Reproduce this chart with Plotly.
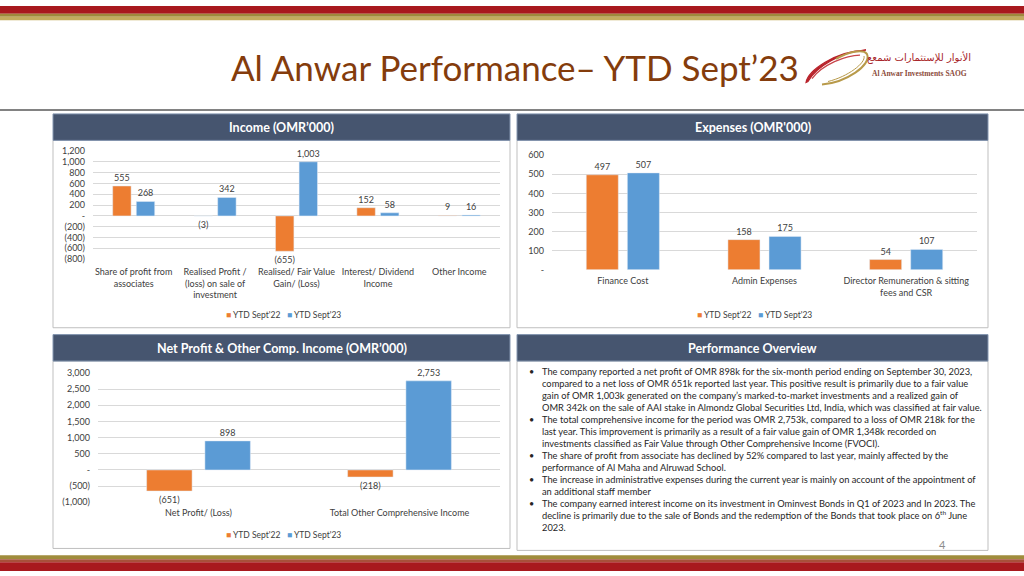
import plotly.graph_objects as go

W, H = 1024, 576


def px(x):
    return x / W


def py(y):
    return 1 - y / H


# ---------------- data ----------------
series_names = ["YTD Sept'22", "YTD Sept'23"]
series_colors = ["#ED7D31", "#5B9BD5"]

income_categories = [
    "Share of profit from<br>associates",
    "Realised Profit /<br>(loss) on sale of<br>investment",
    "Realised/ Fair Value<br>Gain/ (Loss)",
    "Interest/ Dividend<br>Income",
    "Other Income",
]
income_2022 = [555, -3, -655, 152, 9]
income_2023 = [268, 342, 1003, 58, 16]
income_ticks = [1200, 1000, 800, 600, 400, 200, 0, -200, -400, -600, -800]

expense_categories = [
    "Finance Cost",
    "Admin Expenses",
    "Director Remuneration & sitting<br>fees and CSR",
]
expense_2022 = [497, 158, 54]
expense_2023 = [507, 175, 107]
expense_ticks = [0, 100, 200, 300, 400, 500, 600]

np_categories = ["Net Profit/ (Loss)", "Total Other Comprehensive Income"]
np_2022 = [-651, -218]
np_2023 = [898, 2753]
np_ticks = [-1000, -500, 0, 500, 1000, 1500, 2000, 2500, 3000]

title_text = "Al Anwar Performance– YTD Sept’23"
panel_titles = [
    "Income (OMR’000)",
    "Expenses (OMR'000)",
    "Net Profit & Other Comp. Income (OMR’000)",
    "Performance Overview",
]
overview_lines = [
    "The company reported a net profit of OMR 898k for the six-month period ending on September 30, 2023,",
    "compared to a net loss of OMR 651k reported last year. This positive result is primarily due to a fair value",
    "gain of OMR 1,003k generated on the company’s marked-to-market investments and a realized gain of",
    "OMR 342k on the sale of AAI stake in Almondz Global Securities Ltd, India, which was classified at fair value.",
    "The total comprehensive income for the period was OMR 2,753k, compared to a loss of OMR 218k for the",
    "last year. This improvement is primarily as a result of a fair value gain of OMR 1,348k recorded on",
    "investments classified as Fair Value through Other Comprehensive Income (FVOCI).",
    "The share of profit from associate has declined by 52% compared to last year, mainly affected by the",
    "performance of Al Maha and Alruwad School.",
    "The increase in administrative expenses during the current year is mainly on account of the appointment of",
    "an additional staff member",
    "The company earned interest income on its investment in Ominvest Bonds in Q1 of 2023 and In 2023. The",
    "decline is primarily due to the sale of Bonds and the redemption of the Bonds that took place on 6<sup>th</sup> June",
    "2023.",
]
bullet_lines = [0, 4, 7, 9, 11]


def acct(v):
    if v == 0:
        return "-"
    if v < 0:
        return "({:,})".format(-v)
    return "{:,}".format(v)


FONT = "Lato"
TXT = "#404040"

fig = go.Figure()


def add_pair(cats, v22, v23, xa, ya):
    for name, vals, col in zip(series_names, [v22, v23], series_colors):
        fig.add_trace(go.Bar(
            x=cats, y=vals, name=name, marker_color=col,
            text=[acct(v) for v in vals], textposition="outside",
            textfont=dict(size=9, color=TXT, family=FONT),
            constraintext="none", cliponaxis=False,
            xaxis=xa, yaxis=ya, showlegend=False, hoverinfo="skip",
        ))


add_pair(income_categories, income_2022, income_2023, "x", "y")
add_pair(expense_categories, expense_2022, expense_2023, "x2", "y2")
add_pair(np_categories, np_2022, np_2023, "x3", "y3")

shapes = []


def rect(x0, y0, x1, y1, fill, line=None, lw=0, layer="below"):
    shapes.append(dict(type="rect", xref="paper", yref="paper",
                       x0=px(x0), x1=px(x1), y0=py(y1), y1=py(y0),
                       fillcolor=fill, line=dict(color=line or fill, width=lw), layer=layer))


# top and bottom bands
rect(0, 0, 1024, 8, "#A8191E")
rect(0, 8, 1024, 11, "#9E8A3C")
rect(0, 11, 1024, 14.5, "#C2AC5E")
rect(0, 560, 1024, 564, "#A08C3C")
rect(0, 564, 1024, 567, "#A8503A")
rect(0, 567, 1024, 576, "#A8191E")
# separator line
shapes.append(dict(type="line", xref="paper", yref="paper", x0=0, x1=1,
                   y0=py(106), y1=py(106), line=dict(color="#595959", width=1.5)))

# panels: (x0, x1, header_top, header_bottom, box_bottom)
panels = [
    (53, 510, 110, 137, 328),
    (517, 988, 110, 137, 328),
    (53, 510, 335, 362, 553),
    (517, 988, 335, 362, 555),
]
annotations = []
for (x0, x1, ht, hb, bb), t in zip(panels, panel_titles):
    rect(x0, hb, x1, bb, "white", line="#BFBFBF", lw=1)
    rect(x0, ht, x1, hb, "#46556F", line="#8496B0", lw=1)
    annotations.append(dict(text="<b>" + t + "</b>", x=px((x0 + x1) / 2), y=py((ht + hb) / 2 + 0.5),
                            xref="paper", yref="paper", showarrow=False,
                            font=dict(size=12.5, color="white", family=FONT),
                            xanchor="center", yanchor="middle"))

# title
annotations.append(dict(text=title_text, x=px(515), y=py(62), xref="paper", yref="paper",
                        showarrow=False, font=dict(size=35, color="#843C0C", family=FONT),
                        xanchor="center", yanchor="middle"))


# logo
def pth(points_str):
    out = []
    for tok in points_str.split():
        if "," in tok:
            a, b = tok.split(",")
            out.append("{:.5f},{:.5f}".format(px(float(a)), py(float(b))))
        else:
            out.append(tok)
    return " ".join(out)


shapes.append(dict(type="path", xref="paper", yref="paper",
                   path=pth("M 806,78 C 808,66 835,46 866,45 C 842,46 816,62 808,77 Z"),
                   fillcolor="#B8222A", line=dict(color="#B8222A", width=1.2)))
shapes.append(dict(type="path", xref="paper", yref="paper",
                   path=pth("M 812,74 C 822,60 846,50 860,50"),
                   line=dict(color="#C8454A", width=1.2)))
shapes.append(dict(type="path", xref="paper", yref="paper",
                   path=pth("M 822,80 C 846,78 872,60 867,49 C 863,43 848,47 836,54"),
                   line=dict(color="#B89A4A", width=2)))
shapes.append(dict(type="path", xref="paper", yref="paper",
                   path=pth("M 828,77 C 848,72 866,58 864,51"),
                   line=dict(color="#B89A4A", width=1)))
annotations.append(dict(text="الأنوار للإستثمارات شمعع", x=px(919), y=py(52), xref="paper", yref="paper",
                        showarrow=False, font=dict(size=10, color="#A8262A", family="DejaVu Sans"),
                        xanchor="center", yanchor="middle"))
annotations.append(dict(text="<b>Al Anwar Investments SAOG</b>", x=px(919), y=py(69), xref="paper", yref="paper",
                        showarrow=False, font=dict(size=7.5, color="#8B4A3A", family="Liberation Serif"),
                        xanchor="center", yanchor="middle"))

# overview text
for i, line in enumerate(overview_lines):
    yy = 373 + i * 12.2
    annotations.append(dict(text=line, x=px(540), y=py(yy), xref="paper", yref="paper",
                            showarrow=False, font=dict(size=9.3, color="#262626", family=FONT),
                            xanchor="left", yanchor="middle"))
    if i in bullet_lines:
        annotations.append(dict(text="•", x=px(527), y=py(yy), xref="paper", yref="paper",
                                showarrow=False, font=dict(size=9, color="#262626", family=FONT),
                                xanchor="left", yanchor="middle"))
# page number
annotations.append(dict(text="4", x=px(942), y=py(549), xref="paper", yref="paper",
                        showarrow=False, font=dict(size=11, color="#8C8C8C", family=FONT),
                        xanchor="center", yanchor="middle"))

# legends (built from series names / colours)
legend_text = "   ".join(
    '<span style="color:{}">■</span> {}'.format(c, n) for n, c in zip(series_names, series_colors)
)
for lx, ly in [(283, 315), (754, 315), (283, 539)]:
    annotations.append(dict(text=legend_text, x=px(lx), y=py(ly), xref="paper", yref="paper",
                            showarrow=False, font=dict(size=8.5, color=TXT, family=FONT),
                            xanchor="center", yanchor="middle"))

axis_common = dict(tickfont=dict(size=9, color=TXT, family=FONT), showline=False, zeroline=False,
                   fixedrange=True)
yax_common = dict(axis_common, showgrid=True, gridcolor="#D9D9D9", gridwidth=1, tickmode="array",
                  ticklabelstandoff=7)

fig.update_layout(
    width=W, height=H, margin=dict(l=0, r=0, t=0, b=0),
    paper_bgcolor="white", plot_bgcolor="rgba(0,0,0,0)",
    barmode="group", bargap=0.42, bargroupgap=0.22,
    font=dict(family=FONT, color=TXT),
    xaxis=dict(axis_common, domain=[px(93), px(500)], anchor="y", showgrid=False, ticklabelstandoff=6),
    yaxis=dict(yax_common, domain=[py(258), py(148)], anchor="x", range=[-800, 1200],
               tickvals=income_ticks, ticktext=[acct(v) for v in income_ticks]),
    xaxis2=dict(axis_common, domain=[px(552), px(977)], anchor="y2", showgrid=False, ticklabelstandoff=4),
    yaxis2=dict(yax_common, domain=[py(269), py(152)], anchor="x2", range=[0, 600],
                tickvals=expense_ticks, ticktext=[acct(v) for v in expense_ticks]),
    xaxis3=dict(axis_common, domain=[px(98), px(500)], anchor="y3", showgrid=False, ticklabelstandoff=4),
    yaxis3=dict(yax_common, domain=[py(506), py(374)], anchor="x3", range=[-1000, 3000],
                tickvals=np_ticks, ticktext=[acct(v) for v in np_ticks]),
    shapes=shapes, annotations=annotations,
    showlegend=False,
)

fig.write_html(
    "out.html",
    config={"displayModeBar": False, "staticPlot": True},
    post_script="document.body.style.margin='0';document.body.style.padding='0';"
                "document.body.style.overflow='hidden';",
)
